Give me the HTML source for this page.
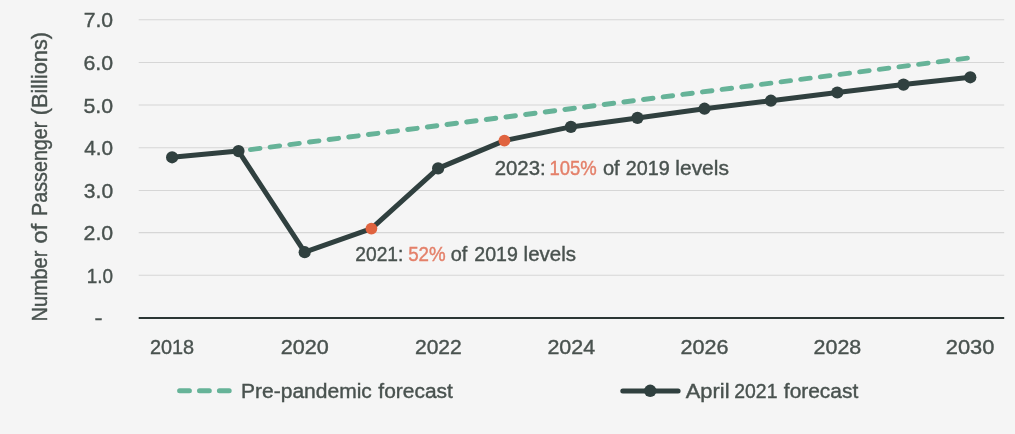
<!DOCTYPE html>
<html lang="en"><head><meta charset="utf-8"><title>Passenger forecast</title>
<style>html,body{margin:0;padding:0;background:#f5f5f5;}body{width:1015px;height:434px;overflow:hidden;}svg{display:block;filter:blur(0.45px);}</style>
</head><body>
<svg width="1015" height="434" viewBox="0 0 1015 434" font-family="Liberation Sans, Arial, sans-serif" font-size="20.6" fill="#49524f" stroke="#49524f" stroke-width="0.4">
<rect width="1015" height="434" fill="#f5f5f5" stroke="none"/>
<g stroke="#d6d6d6" stroke-width="1.1">
<line x1="138.7" x2="1004.2" y1="275.3" y2="275.3"/>
<line x1="138.7" x2="1004.2" y1="232.6" y2="232.6"/>
<line x1="138.7" x2="1004.2" y1="190.5" y2="190.5"/>
<line x1="138.7" x2="1004.2" y1="147.7" y2="147.7"/>
<line x1="138.7" x2="1004.2" y1="105.0" y2="105.0"/>
<line x1="138.7" x2="1004.2" y1="62.5" y2="62.5"/>
<line x1="138.7" x2="1004.2" y1="19.7" y2="19.7"/>
</g>
<line x1="138.7" x2="1004.2" y1="318.0" y2="318.0" stroke="#2b3634" stroke-width="1.8"/>
<g>
<text x="86.74" y="282.8" textLength="26.32" lengthAdjust="spacingAndGlyphs" font-size="21.0">1.0</text>
<text x="83.56" y="240.2" textLength="29.62" lengthAdjust="spacingAndGlyphs" font-size="21.0">2.0</text>
<text x="83.87" y="197.7" textLength="29.26" lengthAdjust="spacingAndGlyphs" font-size="21.0">3.0</text>
<text x="84.22" y="155.1" textLength="28.86" lengthAdjust="spacingAndGlyphs" font-size="21.0">4.0</text>
<text x="83.49" y="112.5" textLength="29.61" lengthAdjust="spacingAndGlyphs" font-size="21.0">5.0</text>
<text x="83.52" y="70.0" textLength="29.60" lengthAdjust="spacingAndGlyphs" font-size="21.0">6.0</text>
<text x="83.71" y="27.4" textLength="29.44" lengthAdjust="spacingAndGlyphs" font-size="21.0">7.0</text>
<text x="94.44" y="324.5" textLength="8.03" lengthAdjust="spacingAndGlyphs" font-size="21.0">-</text>
<text x="149.99" y="353.5" textLength="44.18" lengthAdjust="spacingAndGlyphs" font-size="20.7">2018</text>
<text x="280.87" y="353.5" textLength="48.02" lengthAdjust="spacingAndGlyphs" font-size="20.7">2020</text>
<text x="414.96" y="353.5" textLength="46.83" lengthAdjust="spacingAndGlyphs" font-size="20.7">2022</text>
<text x="547.40" y="353.5" textLength="47.69" lengthAdjust="spacingAndGlyphs" font-size="20.7">2024</text>
<text x="680.52" y="353.5" textLength="48.00" lengthAdjust="spacingAndGlyphs" font-size="20.7">2026</text>
<text x="813.61" y="353.5" textLength="47.62" lengthAdjust="spacingAndGlyphs" font-size="20.7">2028</text>
<text x="945.81" y="353.5" textLength="48.59" lengthAdjust="spacingAndGlyphs" font-size="20.7">2030</text>
</g>
<g transform="translate(47.4,360) rotate(-90)" font-size="21.4">
<text><tspan x="38.56" y="0.0" textLength="70.73" lengthAdjust="spacingAndGlyphs" font-size="21.4">Number</tspan> <tspan x="116.17" y="0.0" textLength="20.03" lengthAdjust="spacingAndGlyphs" font-size="21.4">of</tspan> <tspan x="144.07" y="0.0" textLength="94.33" lengthAdjust="spacingAndGlyphs" font-size="21.4">Passenger</tspan> <tspan x="244.65" y="0.0" textLength="83.45" lengthAdjust="spacingAndGlyphs" font-size="21.4">(Billions)</tspan></text>
</g>
<line x1="238.5" y1="151.1" x2="970" y2="57.8" stroke="#66b398" stroke-width="4.9" stroke-dasharray="9.6 10.21" stroke-dashoffset="7.75" stroke-linecap="round"/>
<polyline points="172.1,157.3 238.5,151.1 304.7,252.2 371.4,228.6 438.1,168.4 504.4,140.6 570.9,126.9 637.5,117.9 704.5,108.7 770.9,100.7 837.3,92.5 903.5,84.6 970.3,77.3" fill="none" stroke="#30403f" stroke-width="5" stroke-linejoin="round" stroke-linecap="round"/>
<g stroke="none">
<circle cx="172.1" cy="157.3" r="6.1" fill="#30403f"/>
<circle cx="238.5" cy="151.1" r="6.1" fill="#30403f"/>
<circle cx="304.7" cy="252.2" r="6.1" fill="#30403f"/>
<circle cx="371.4" cy="228.6" r="5.9" fill="#e0633f"/>
<circle cx="438.1" cy="168.4" r="6.1" fill="#30403f"/>
<circle cx="504.4" cy="140.6" r="5.9" fill="#e0633f"/>
<circle cx="570.9" cy="126.9" r="6.1" fill="#30403f"/>
<circle cx="637.5" cy="117.9" r="6.1" fill="#30403f"/>
<circle cx="704.5" cy="108.7" r="6.1" fill="#30403f"/>
<circle cx="770.9" cy="100.7" r="6.1" fill="#30403f"/>
<circle cx="837.3" cy="92.5" r="6.1" fill="#30403f"/>
<circle cx="903.5" cy="84.6" r="6.1" fill="#30403f"/>
<circle cx="970.3" cy="77.3" r="6.1" fill="#30403f"/>
</g>
<text><tspan x="355.33" y="260.7" textLength="48.06" lengthAdjust="spacingAndGlyphs" font-size="20.5">2021:</tspan> <tspan x="408.13" y="260.7" textLength="37.46" lengthAdjust="spacingAndGlyphs" font-size="20.5" fill="#e4806a" stroke="#e4806a">52%</tspan> <tspan x="450.78" y="260.7" textLength="16.60" lengthAdjust="spacingAndGlyphs" font-size="20.5">of</tspan> <tspan x="474.27" y="260.7" textLength="43.53" lengthAdjust="spacingAndGlyphs" font-size="20.5">2019</tspan> <tspan x="523.61" y="260.7" textLength="52.38" lengthAdjust="spacingAndGlyphs" font-size="20.5">levels</tspan></text>
<text><tspan x="494.70" y="174.7" textLength="50.98" lengthAdjust="spacingAndGlyphs" font-size="20.5">2023:</tspan> <tspan x="549.46" y="174.7" textLength="47.31" lengthAdjust="spacingAndGlyphs" font-size="20.5" fill="#e4806a" stroke="#e4806a">105%</tspan> <tspan x="602.90" y="174.7" textLength="16.81" lengthAdjust="spacingAndGlyphs" font-size="20.5">of</tspan> <tspan x="625.74" y="174.7" textLength="43.97" lengthAdjust="spacingAndGlyphs" font-size="20.5">2019</tspan> <tspan x="675.33" y="174.7" textLength="53.58" lengthAdjust="spacingAndGlyphs" font-size="20.5">levels</tspan></text>
<line x1="179.6" y1="390.8" x2="231" y2="390.8" stroke="#66b398" stroke-width="5" stroke-dasharray="9.8 10.1" stroke-linecap="round"/>
<text><tspan x="241.01" y="398.0" textLength="130.83" lengthAdjust="spacingAndGlyphs" font-size="20.0">Pre-pandemic</tspan> <tspan x="378.35" y="398.0" textLength="74.49" lengthAdjust="spacingAndGlyphs" font-size="20.0">forecast</tspan></text>
<line x1="622.8" y1="390.9" x2="678.1" y2="390.9" stroke="#30403f" stroke-width="5" stroke-linecap="round"/>
<circle cx="650.2" cy="390.8" r="6.2" fill="#30403f" stroke="none"/>
<text><tspan x="685.75" y="398.0" textLength="43.74" lengthAdjust="spacingAndGlyphs" font-size="20.0">April</tspan> <tspan x="734.31" y="398.0" textLength="43.14" lengthAdjust="spacingAndGlyphs" font-size="20.0">2021</tspan> <tspan x="783.89" y="398.0" textLength="74.33" lengthAdjust="spacingAndGlyphs" font-size="20.0">forecast</tspan></text>
</svg>
</body></html>
